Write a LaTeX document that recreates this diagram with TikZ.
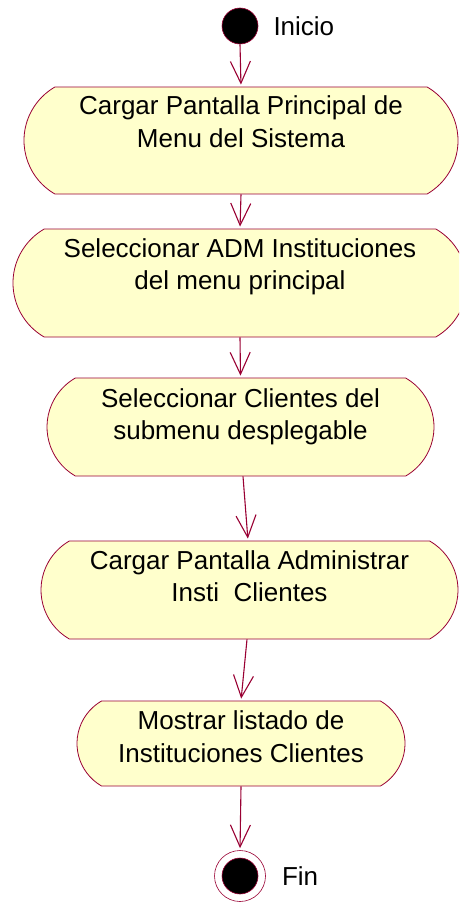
\documentclass[tikz,border=0pt]{standalone}
\usepackage{fontspec}
\setmainfont{Liberation Sans}
\usetikzlibrary{shapes.misc, arrows.meta, positioning}
\definecolor{umlred}{RGB}{153, 0, 51}
\definecolor{actfill}{RGB}{255, 255, 204}

\begin{document}
\begin{tikzpicture}[x=1pt, y=-1pt,
  act/.style={rounded rectangle, rounded rectangle arc length=120, draw=umlred, fill=actfill,
    line width=0.8pt, align=center, inner sep=0pt, font=\fontsize{26}{32.5}\selectfont},
  flow/.style={-{Straight Barb[length=22pt, width=20pt]}, umlred, line width=1.1pt, shorten >=2pt},
  lbl/.style={anchor=west, inner sep=0pt, font=\fontsize{26}{30}\selectfont}]

  % 画布范围
  \clip (0,0) rectangle (459,902);

  % 初始状态
  \node (inicio) [circle, fill=black, draw=umlred, line width=0.6pt, minimum size=36pt, inner sep=0pt] at (240,26) {};
  \node (inicioLbl) [lbl, right=15pt of inicio] {Inicio};

  % 活动
  \node (cargarMenu) [act, minimum width=434pt, minimum height=107pt, text depth=38pt] at (241,140.5)
    {Cargar Pantalla Principal de\\Menu del Sistema};
  \node (selAdm) [act, minimum width=454pt, minimum height=108pt, text depth=38pt] at (240,283)
    {Seleccionar ADM Instituciones\\del menu principal};
  \node (selClientes) [act, minimum width=387pt, minimum height=98pt, text depth=26pt] at (240.5,427)
    {Seleccionar Clientes del\\submenu desplegable};
  \node (cargarAdm) [act, minimum width=417pt, minimum height=98pt, text depth=28pt] at (249.5,590)
    {Cargar Pantalla Administrar\\Insti~~Clientes};
  \node (mostrar) [act, minimum width=328pt, minimum height=85pt, text depth=14pt] at (241,743.5)
    {Mostrar listado de\\Instituciones Clientes};

  % 终止状态
  \node (fin) [circle, draw=umlred, fill=white, line width=0.6pt, minimum size=51pt, inner sep=0pt] at (240,876) {};
  \filldraw[fill=black, draw=umlred, line width=0.6pt] (fin.center) circle (18pt);
  \node (finLbl) [lbl, right=16pt of fin] {Fin};

  % 转移
  \draw[flow] (inicio.south) -- (cargarMenu.north);
  \draw[flow] (cargarMenu.south) -- (selAdm.north);
  \draw[flow] (selAdm.south) -- (selClientes.north);
  \draw[flow] ([xshift=2.5pt]selClientes.south) -- ([xshift=-1.5pt]cargarAdm.north);
  \draw[flow] ([xshift=-2.5pt]cargarAdm.south) -- (mostrar.north);
  \draw[flow] (mostrar.south) -- (fin.north);

\end{tikzpicture}
\end{document}
